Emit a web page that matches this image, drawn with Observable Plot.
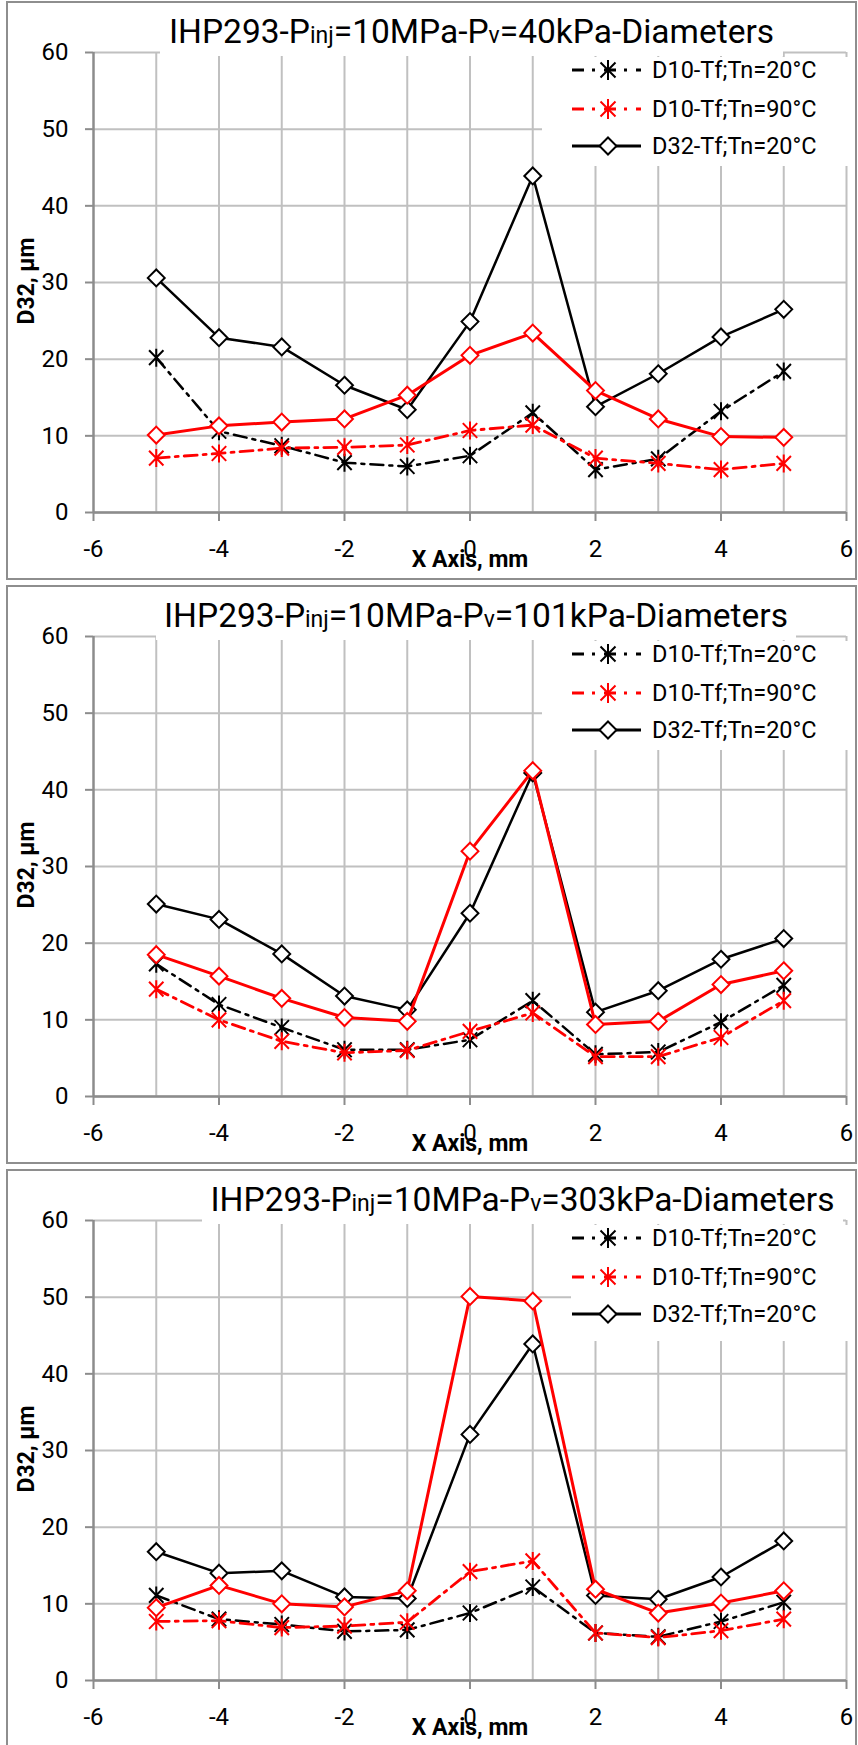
<!DOCTYPE html>
<html>
<head>
<meta charset="utf-8">
<script src="https://cdn.jsdelivr.net/npm/d3@7"></script>
<script src="https://cdn.jsdelivr.net/npm/@observablehq/plot@0.6"></script>
<style>
  html, body { margin: 0; padding: 0; background: #fff; }
  body { width: 858px; height: 1745px; position: relative; overflow: hidden; font-family: Roboto, "Liberation Sans", sans-serif; }
  .panel { position: absolute; left: 6px; width: 851px; height: 579px; border: 2px solid #8e8e8e; box-sizing: border-box; background: #fff; z-index: 0; }
  .chart { position: absolute; left: 0; z-index: 1; }
  .title { position: absolute; z-index: 2; background: #fff; white-space: nowrap; text-align: center; font-size: 33.5px; line-height: 48px; height: 48px; color: #000; }
  .title small { font-size: 23px; }
  .legend { position: absolute; z-index: 2; background: #fff; }
  .legrow { position: absolute; left: 0; height: 30px; white-space: nowrap; }
  .legrow svg { position: absolute; left: 30px; top: 0; }
  .legrow span { position: absolute; left: 110px; top: 0; line-height: 30px; font-size: 23.5px; color: #000; }
  .ylab { position: absolute; z-index: 2; font-weight: bold; font-size: 23px; line-height: 24px; width: 200px; text-align: center; transform: rotate(-90deg); transform-origin: 100px 12px; white-space: nowrap; }
  .xlab { position: absolute; z-index: 2; font-weight: bold; font-size: 23px; line-height: 24px; width: 200px; text-align: center; white-space: nowrap; }
</style>
</head>
<body>
<script>
// ---- data ----
const xPos = [-5, -4, -3, -2, -1, 0, 1, 2, 3, 4, 5];
const pvLabels = ["40kPa", "101kPa", "303kPa"];
const legendLabels = ["D10-Tf;Tn=20°C", "D10-Tf;Tn=90°C", "D32-Tf;Tn=20°C"];
const xTicks = [-6, -4, -2, 0, 2, 4, 6];
const xGrid = [-5, -4, -3, -2, -1, 0, 1, 2, 3, 4, 5, 6];
const yTicks = [0, 10, 20, 30, 40, 50, 60];

// Pv = 40 kPa
const d10T20_40 = [20.2, 10.6, 8.7, 6.5, 6.0, 7.4, 13.0, 5.6, 7.0, 13.2, 18.4];
const d10T90_40 = [7.1, 7.7, 8.4, 8.5, 8.8, 10.7, 11.4, 7.1, 6.4, 5.6, 6.4];
const d32T20_40 = [30.6, 22.8, 21.6, 16.6, 13.4, 24.9, 43.9, 13.8, 18.1, 22.9, 26.5];
const d32T90_40 = [10.1, 11.3, 11.8, 12.2, 15.3, 20.5, 23.4, 15.9, 12.2, 9.9, 9.8];

// Pv = 101 kPa
const d10T20_101 = [17.3, 12.0, 9.0, 6.1, 6.1, 7.4, 12.5, 5.5, 5.8, 9.7, 14.5];
const d10T90_101 = [14.0, 10.0, 7.2, 5.7, 6.0, 8.5, 10.9, 5.2, 5.2, 7.7, 12.5];
const d32T20_101 = [25.1, 23.1, 18.6, 13.1, 11.3, 23.9, 42.2, 11.0, 13.8, 17.9, 20.6];
const d32T90_101 = [18.5, 15.7, 12.8, 10.3, 9.8, 32.0, 42.5, 9.4, 9.8, 14.6, 16.4];

// Pv = 303 kPa
const d10T20_303 = [11.1, 8.0, 7.3, 6.4, 6.6, 8.8, 12.2, 6.2, 5.7, 7.7, 10.2];
const d10T90_303 = [7.7, 7.8, 6.9, 7.1, 7.6, 14.2, 15.6, 6.2, 5.6, 6.5, 8.0];
const d32T20_303 = [16.8, 14.0, 14.3, 10.9, 10.7, 32.1, 43.9, 11.1, 10.6, 13.5, 18.2];
const d32T90_303 = [9.5, 12.4, 10.0, 9.6, 11.7, 50.1, 49.5, 11.9, 8.8, 10.1, 11.7];

// ---- layout ----
const PANEL_STEP = 584;
const panels = [
  {pv: pvLabels[0], series: [d10T20_40, d10T90_40, d32T20_40, d32T90_40], titleL: 160, titleR: 783, legL: 542, legB: 166},
  {pv: pvLabels[1], series: [d10T20_101, d10T90_101, d32T20_101, d32T90_101], titleL: 156, titleR: 796, legL: 542, legB: 166},
  {pv: pvLabels[2], series: [d10T20_303, d10T90_303, d32T20_303, d32T90_303], titleL: 202, titleR: 843, legL: 571, legB: 173}
];

const asteriskSym = {
  draw(ctx, size) {
    const r = Math.sqrt(size / Math.PI);
    const h = r, w = r * 0.8, k = r * 0.82;
    ctx.moveTo(0, -h); ctx.lineTo(0, h);
    ctx.moveTo(-w, -k); ctx.lineTo(w, k);
    ctx.moveTo(-w, k); ctx.lineTo(w, -k);
  }
};

const styles = [
  {color: "#000", dash: "13,6,3,6", width: 2.5, sym: "ast"},
  {color: "#ff0000", dash: "13,6,3,6", width: 2.8, sym: "ast"},
  {color: "#000", dash: null, width: 2.5, sym: "dia"},
  {color: "#ff0000", dash: null, width: 3, sym: "dia"}
];

panels.forEach((p, i) => {
  const top = i * PANEL_STEP;
  const box = document.createElement("div");
  box.className = "panel";
  box.style.top = (top + 0.5) + "px";
  document.body.appendChild(box);

  const marks = [
    Plot.gridX(xGrid, {stroke: "#c0c0c0", strokeOpacity: 1, strokeWidth: 2}),
    Plot.gridY(yTicks, {stroke: "#c0c0c0", strokeOpacity: 1, strokeWidth: 2}),
    Plot.axisX(xTicks, {tickSize: 9, tickPadding: 18, stroke: "#8c8c8c", strokeWidth: 2, tickFormat: d => String(d), label: null}),
    Plot.axisY(yTicks, {tickSize: 8, tickPadding: 17, stroke: "#8c8c8c", strokeWidth: 2, tickFormat: d => String(d), label: null}),
    Plot.ruleY([0], {stroke: "#8c8c8c", strokeWidth: 2.5}),
    Plot.ruleX([-6], {stroke: "#8c8c8c", strokeWidth: 2.5})
  ];
  p.series.forEach((vals, s) => {
    const st = styles[s];
    const data = xPos.map((x, j) => ({x, y: vals[j]}));
    marks.push(Plot.line(data, {x: "x", y: "y", stroke: st.color, strokeWidth: st.width, strokeDasharray: st.dash || undefined, strokeLinejoin: "round"}));
    if (st.sym === "ast") {
      marks.push(Plot.dot(data, {x: "x", y: "y", symbol: asteriskSym, r: 9, stroke: st.color, strokeWidth: 2, fill: "none"}));
    } else {
      marks.push(Plot.dot(data, {x: "x", y: "y", symbol: "diamond2", r: 7.6, stroke: st.color, strokeWidth: 2, fill: "#fff"}));
    }
  });

  const chart = Plot.plot({
    width: 858,
    height: 584,
    marginLeft: 93,
    marginRight: 12,
    marginTop: 52,
    marginBottom: 72,
    x: {domain: [-6, 6]},
    y: {domain: [0, 60]},
    style: {background: "transparent", fontFamily: "Roboto, sans-serif", fontSize: "24px", color: "#000", overflow: "visible"},
    marks
  });
  chart.classList.add("chart");
  chart.style.top = top + "px";
  chart.style.position = "absolute";
  document.body.appendChild(chart);

  // title
  const t = document.createElement("div");
  t.className = "title";
  t.style.left = p.titleL + "px";
  t.style.width = (p.titleR - p.titleL) + "px";
  t.style.top = (top + 8) + "px";
  t.innerHTML = "IHP293-P<small>inj</small>=10MPa-P<small>v</small>=" + p.pv + "-Diameters";
  document.body.appendChild(t);

  // legend
  const lg = document.createElement("div");
  lg.className = "legend";
  lg.style.left = p.legL + "px";
  lg.style.top = (top + 57) + "px";
  lg.style.width = (852 - p.legL) + "px";
  lg.style.height = (p.legB - 57) + "px";
  const rowsY = [70, 109, 146];
  legendLabels.forEach((lab, k) => {
    const st = styles[k];
    const row = document.createElement("div");
    row.className = "legrow";
    row.style.top = (rowsY[k] - 57 - 15) + "px";
    row.style.left = (542 - p.legL) + "px";
    let sym;
    if (st.sym === "ast") {
      sym = `<path d="M36,5V25M28.5,7.5L43.5,22.5M28.5,22.5L43.5,7.5" stroke="${st.color}" stroke-width="2" fill="none"/>`;
    } else {
      sym = `<path d="M36,6.5L44.5,15L36,23.5L27.5,15Z" stroke="${st.color}" stroke-width="2" fill="#fff"/>`;
    }
    row.innerHTML = `<svg width="80" height="30"><line x1="0" x2="69" y1="15" y2="15" stroke="${st.color}" stroke-width="3" ${st.dash ? `stroke-dasharray="12,8,3,9"` : ""}/>${sym}</svg><span>${lab}</span>`;
    lg.appendChild(row);
  });
  document.body.appendChild(lg);

  // axis labels
  const yl = document.createElement("div");
  yl.className = "ylab";
  yl.textContent = "D32, µm";
  yl.style.left = (27 - 100) + "px";
  yl.style.top = (top + 281 - 12) + "px";
  document.body.appendChild(yl);

  const xl = document.createElement("div");
  xl.className = "xlab";
  xl.textContent = "X Axis, mm";
  xl.style.left = (470 - 100) + "px";
  xl.style.top = (top + 560 - 12) + "px";
  document.body.appendChild(xl);
});
</script>
</body>
</html>
